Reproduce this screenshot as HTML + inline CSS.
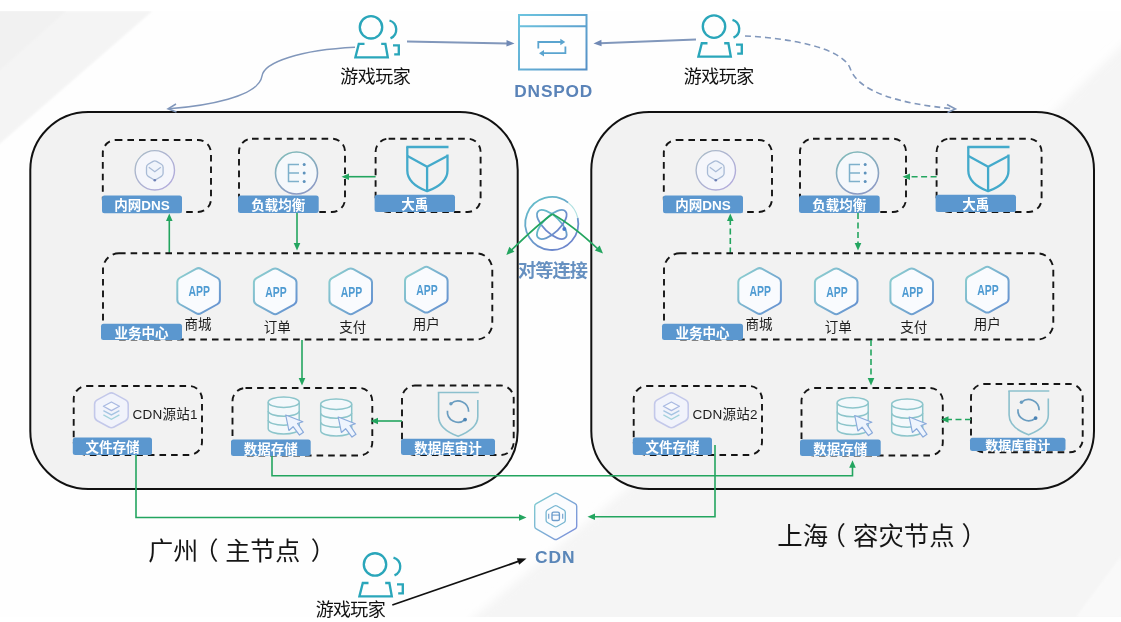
<!DOCTYPE html>
<html lang="zh-CN"><head><meta charset="utf-8"><title>多地域容灾架构</title>
<style>html,body{margin:0;padding:0;background:#fff;}body{width:1121px;height:622px;overflow:hidden;}svg{display:block;filter:blur(0.55px);font-family:"Liberation Sans","Noto Sans CJK SC",sans-serif;}</style></head><body>
<svg width="1121" height="622" viewBox="0 0 1121 622">
<defs><linearGradient id="gdns" x1="0" y1="0" x2="1" y2="1"><stop offset="0" stop-color="#a9bcc6"/><stop offset="1" stop-color="#b3a9de"/></linearGradient><linearGradient id="glb" x1="0" y1="0" x2="0.4" y2="1"><stop offset="0" stop-color="#80bcb9"/><stop offset="1" stop-color="#8c9cc4"/></linearGradient><linearGradient id="gapp" x1="0" y1="0" x2="1" y2="0.8"><stop offset="0" stop-color="#8fd2cf"/><stop offset="1" stop-color="#6794d1"/></linearGradient><linearGradient id="gcdn" x1="0" y1="0" x2="1" y2="0.8"><stop offset="0" stop-color="#7fcfd0"/><stop offset="1" stop-color="#7d92da"/></linearGradient><linearGradient id="gtl" x1="0" y1="0" x2="1" y2="1"><stop offset="0" stop-color="#f1f1f1"/><stop offset="1" stop-color="#f7f7f7"/></linearGradient><linearGradient id="gdp" gradientUnits="userSpaceOnUse" x1="519" y1="15" x2="586" y2="70"><stop offset="0" stop-color="#6cc4df"/><stop offset="1" stop-color="#5590c6"/></linearGradient><filter id="soft1" x="-20%" y="-20%" width="140%" height="140%"><feGaussianBlur stdDeviation="1.2"/></filter><filter id="soft2" x="-10%" y="-10%" width="120%" height="120%"><feGaussianBlur stdDeviation="4"/></filter><clipPath id="cpbg"><rect x="0" y="11" width="1121" height="606"/></clipPath></defs>
<rect width="1121" height="622" fill="#ffffff"/>
<rect x="0" y="11" width="1121" height="606" fill="#fefefe"/>
<g clip-path="url(#cpbg)">
<polygon points="-20,11 152.5,11 -20,161" fill="#f4f4f4" filter="url(#soft1)"/>
<polygon points="-20,11 66,11 -20,88" fill="#f1f1f1" filter="url(#soft1)"/>
<polygon points="474,617 625,490 1050,115 1141,27 1141,640 450,640" fill="#f5f5f5" filter="url(#soft2)"/>
<polygon points="1076,617 1121,617 1121,556" fill="#f9f9f9" filter="url(#soft1)"/>
</g>
<rect x="0" y="0" width="1121" height="11" fill="#fff"/>
<rect x="30.3" y="112" width="487.4" height="377" rx="58" fill="#f2f2f2" stroke="#111" stroke-width="2"/>
<rect x="591.3" y="112" width="502.7" height="377" rx="58" fill="#f2f2f2" stroke="#111" stroke-width="2"/>
<path d="M355,47.3 C300,50 264,62 262,76 C259,97 205,106 169,108.8" fill="none" stroke="#8197bb" stroke-width="1.5"/>
<path d="M176,104 L168,108.8 L176.5,112" fill="none" stroke="#8197bb" stroke-width="1.5"/>
<path d="M407,41.5 L508,43.4" fill="none" stroke="#8197bb" stroke-width="2"/>
<polygon points="514.5,43.5 506.44,46.61 506.56,40.11" fill="#7089b5"/>
<path d="M696,39.6 L600,43.2" fill="none" stroke="#8197bb" stroke-width="2"/>
<polygon points="593.5,43.4 601.38,39.87 601.61,46.37" fill="#7089b5"/>
<path d="M745,36 C790,38 842,48 850,68 C858,92 900,104 954,108.8" fill="none" stroke="#8197bb" stroke-width="1.6" stroke-dasharray="6 4"/>
<path d="M947,104.5 L955.5,109 L947.5,112.5" fill="none" stroke="#8197bb" stroke-width="1.5"/>
<g fill="none" stroke="#2aa6ba" stroke-width="2.35" stroke-linecap="butt" stroke-linejoin="miter"><circle cx="371" cy="27.3" r="11.2"/><path d="M364.5,43.9 H358.8 L355.4,57.3 H387.8 L385.4,43.9 H381.2"/><path d="M389.5,20.5 A9.5,9.5 0 0 1 390.5,38.3"/><path d="M393,45.3 H398.8 V54.3 H394.2"/></g>
<g fill="none" stroke="#2aa6ba" stroke-width="2.35" stroke-linecap="butt" stroke-linejoin="miter"><circle cx="714" cy="26.6" r="11.2"/><path d="M707.5,43.2 H701.8 L698.4,56.6 H730.8 L728.4,43.2 H724.2"/><path d="M732.5,19.8 A9.5,9.5 0 0 1 733.5,37.6"/><path d="M736,44.6 H741.8 V53.6 H737.2"/></g>
<text x="375.5" y="82.6" font-size="18" fill="#111" text-anchor="middle" textLength="70.5" lengthAdjust="spacing">游戏玩家</text>
<text x="719" y="82.6" font-size="18" fill="#111" text-anchor="middle" textLength="70.5" lengthAdjust="spacing">游戏玩家</text>
<g fill="none" stroke="url(#gdp)" stroke-width="2"><rect x="519" y="15" width="67.5" height="54.5"/><path d="M519,26.3 H586.5"/></g><g fill="none" stroke="#5aa4cf" stroke-width="1.8"><path d="M538.3,48.6 V42 H561.5"/><path d="M565.4,46.6 V53.2 H543"/></g><polygon points="565.3,42 560.3,38.8 560.3,45.2" fill="#5aa4cf"/><polygon points="539,53.2 544,50 544,56.4" fill="#5aa4cf"/>
<text x="553.3" y="97" font-size="17.3" font-weight="700" fill="#5a83b8" text-anchor="middle" textLength="78" lengthAdjust="spacing">DNSPOD</text>
<rect x="102.8" y="140" width="108.2" height="72" rx="13" fill="none" stroke="#151515" stroke-width="1.9" stroke-dasharray="6.6 5"/><circle cx="154.8" cy="170.3" r="19.7" fill="#f5f6fb" stroke="url(#gdns)" stroke-width="1.4"/><path d="M153.09,161.33 Q154.8,160.3 156.51,161.33 L161.39,164.27 Q163.1,165.3 163.1,167.3 L163.1,173.3 Q163.1,175.3 161.39,176.33 L156.51,179.27 Q154.8,180.3 153.09,179.27 L148.21,176.33 Q146.5,175.3 146.5,173.3 L146.5,167.3 Q146.5,165.3 148.21,164.27 Z" fill="#f0f4fb" stroke="#a9bbd6" stroke-width="1.3"/><path d="M148.8,167.3 L154.8,171.8 L160.8,167.3" fill="none" stroke="#a9bbd6" stroke-width="1.3"/><circle cx="154.8" cy="180.3" r="1.3" fill="#6d7fb5"/><rect x="102" y="195.5" width="80" height="17.8" rx="2.5" fill="#5b97cf"/><text x="142" y="210.26" font-size="13.5" font-weight="700" fill="#fff" text-anchor="middle">内网<tspan font-weight="700">DNS</tspan></text><rect x="239" y="138.7" width="106" height="73.3" rx="13" fill="none" stroke="#151515" stroke-width="1.9" stroke-dasharray="6.6 5"/><circle cx="296.5" cy="173" r="21" fill="#f5f8fb" stroke="url(#glb)" stroke-width="1.6"/><path d="M299,164.4 H288.5 V181.6 H299 M288.5,173 H299" fill="none" stroke="#7eb0cb" stroke-width="1.5"/><circle cx="304.2" cy="164.4" r="1.5" fill="#5e93bd"/><circle cx="304.2" cy="173" r="1.5" fill="#5e93bd"/><circle cx="304.2" cy="181.6" r="1.5" fill="#5e93bd"/><rect x="238" y="195.5" width="80.7" height="17.5" rx="2.5" fill="#5b97cf"/><text x="278.35" y="210.11" font-size="13.5" font-weight="700" fill="#fff" text-anchor="middle">负载均衡</text><rect x="375.6" y="138.7" width="105" height="73.3" rx="13" fill="none" stroke="#151515" stroke-width="1.9" stroke-dasharray="6.6 5"/><g fill="none" stroke="#43aacb" stroke-width="2.3" stroke-linejoin="round"><path d="M406.3,147 H448.5"/><path d="M407.3,147 V170.4 C407.3,181.4 417.3,187.4 427.1,191.2 C437.3,187.4 447.5,181.4 447.5,170.4 V154.4"/><path d="M407.5,155.9 L427.1,166.7 L447.3,155.9 M427.1,166.7 V191"/></g><rect x="374.6" y="194.7" width="80.4" height="17.3" rx="2.5" fill="#5b97cf"/><text x="414.8" y="209.21" font-size="13.5" font-weight="700" fill="#fff" text-anchor="middle">大禹</text><path d="M375.6,176.7 H347" fill="none" stroke="#23a55f" stroke-width="1.6"/><polygon points="341.5,176.7 349,173.4 349,180" fill="#23a55f"/><path d="M169.3,253.5 V220" fill="none" stroke="#23a55f" stroke-width="1.6"/><polygon points="169.3,213.5 172.6,221 166,221" fill="#23a55f"/><path d="M297,213 V244" fill="none" stroke="#23a55f" stroke-width="1.6"/><polygon points="297,250.5 293.7,243 300.3,243" fill="#23a55f"/><rect x="103" y="253.3" width="389.3" height="86.2" rx="16" fill="none" stroke="#151515" stroke-width="1.9" stroke-dasharray="6.6 5"/><path d="M195.98,268.85 Q198.6,267.4 201.22,268.85 L217.28,277.75 Q219.9,279.2 219.9,282.2 L219.9,299.8 Q219.9,302.8 217.28,304.25 L201.22,313.15 Q198.6,314.6 195.98,313.15 L179.92,304.25 Q177.3,302.8 177.3,299.8 L177.3,282.2 Q177.3,279.2 179.92,277.75 Z" fill="#f9fbfe" stroke="url(#gapp)" stroke-width="2"/><text x="199.3" y="296.2" font-size="14.3" font-weight="700" fill="#4f9bd2" text-anchor="middle" textLength="21.4" lengthAdjust="spacingAndGlyphs">APP</text><text x="198" y="329.3" font-size="13.5" fill="#1c1c1c" text-anchor="middle">商城</text><path d="M272.58,269.15 Q275.2,267.7 277.82,269.15 L293.88,278.05 Q296.5,279.5 296.5,282.5 L296.5,300.1 Q296.5,303.1 293.88,304.55 L277.82,313.45 Q275.2,314.9 272.58,313.45 L256.52,304.55 Q253.9,303.1 253.9,300.1 L253.9,282.5 Q253.9,279.5 256.52,278.05 Z" fill="#f9fbfe" stroke="url(#gapp)" stroke-width="2"/><text x="275.9" y="296.5" font-size="14.3" font-weight="700" fill="#4f9bd2" text-anchor="middle" textLength="21.4" lengthAdjust="spacingAndGlyphs">APP</text><text x="277.3" y="331.6" font-size="13.5" fill="#1c1c1c" text-anchor="middle">订单</text><path d="M348.08,269.15 Q350.7,267.7 353.32,269.15 L369.38,278.05 Q372,279.5 372,282.5 L372,300.1 Q372,303.1 369.38,304.55 L353.32,313.45 Q350.7,314.9 348.08,313.45 L332.02,304.55 Q329.4,303.1 329.4,300.1 L329.4,282.5 Q329.4,279.5 332.02,278.05 Z" fill="#f9fbfe" stroke="url(#gapp)" stroke-width="2"/><text x="351.4" y="296.5" font-size="14.3" font-weight="700" fill="#4f9bd2" text-anchor="middle" textLength="21.4" lengthAdjust="spacingAndGlyphs">APP</text><text x="352.8" y="331.6" font-size="13.5" fill="#1c1c1c" text-anchor="middle">支付</text><path d="M423.68,267.55 Q426.3,266.1 428.92,267.55 L444.98,276.45 Q447.6,277.9 447.6,280.9 L447.6,298.5 Q447.6,301.5 444.98,302.95 L428.92,311.85 Q426.3,313.3 423.68,311.85 L407.62,302.95 Q405,301.5 405,298.5 L405,280.9 Q405,277.9 407.62,276.45 Z" fill="#f9fbfe" stroke="url(#gapp)" stroke-width="2"/><text x="427" y="294.9" font-size="14.3" font-weight="700" fill="#4f9bd2" text-anchor="middle" textLength="21.4" lengthAdjust="spacingAndGlyphs">APP</text><text x="426.3" y="329.3" font-size="13.5" fill="#1c1c1c" text-anchor="middle">用户</text><rect x="101" y="323.7" width="81" height="16.3" rx="2.5" fill="#5b97cf"/><text x="141.5" y="337.71" font-size="13.5" font-weight="700" fill="#fff" text-anchor="middle">业务中心</text><rect x="73.7" y="386" width="128.3" height="69" rx="13" fill="none" stroke="#151515" stroke-width="1.9" stroke-dasharray="6.6 5"/><path d="M108.76,393.62 Q111.4,392.2 114.04,393.62 L125.56,399.83 Q128.2,401.25 128.2,404.25 L128.2,416.35 Q128.2,419.35 125.56,420.77 L114.04,426.98 Q111.4,428.4 108.76,426.98 L97.24,420.77 Q94.6,419.35 94.6,416.35 L94.6,404.25 Q94.6,401.25 97.24,399.83 Z" fill="#f1f3fb" stroke="#c3c8ea" stroke-width="1.6"/><path d="M103.4,406.3 l8,-4.3 l8,4.3 l-8,4.3 Z" fill="#f7f9fd" stroke="#a9b9e2" stroke-width="1.3" stroke-linejoin="round"/><path d="M103.4,410.6 l8,4.3 l8,-4.3" fill="none" stroke="#a5c4e2" stroke-width="1.3"/><path d="M103.4,414.9 l8,4.3 l8,-4.3" fill="none" stroke="#a3d2dc" stroke-width="1.3"/><text x="132.6" y="418.8" font-size="13.5" fill="#1c1c1c" textLength="65" lengthAdjust="spacing">CDN源站1</text><rect x="72.8" y="437.5" width="79.2" height="17.5" rx="2.5" fill="#5b97cf"/><text x="112.4" y="452.11" font-size="13.5" font-weight="700" fill="#fff" text-anchor="middle">文件存储</text><rect x="232.5" y="388" width="139.8" height="67.5" rx="13" fill="none" stroke="#151515" stroke-width="1.9" stroke-dasharray="6.6 5"/><g fill="#f3f8fb" stroke="#8cc5cb" stroke-width="1.5"><path d="M268.2,402.2 V428.8 A15.5,5.2 0 0 0 299.2,428.8 V402.2"/><ellipse cx="283.7" cy="402.2" rx="15.5" ry="5.2"/></g><g fill="none" stroke="#8cc5cb" stroke-width="1.5"><path d="M268.2,411.07 A15.5,5.2 0 0 0 299.2,411.07"/><path d="M268.2,419.93 A15.5,5.2 0 0 0 299.2,419.93"/></g><path d="M285.7,415 l3.2,15.5 l4.2,-3.8 l6.4,8.4 l4,-2.8 l-6,-8.8 l5.4,-1.8 Z" fill="#eef4fd" stroke="#8aaadb" stroke-width="1.2" stroke-linejoin="round"/><g fill="#f3f8fb" stroke="#8cc5cb" stroke-width="1.5"><path d="M320.7,404.2 V430.8 A15.5,5.2 0 0 0 351.7,430.8 V404.2"/><ellipse cx="336.2" cy="404.2" rx="15.5" ry="5.2"/></g><g fill="none" stroke="#8cc5cb" stroke-width="1.5"><path d="M320.7,413.07 A15.5,5.2 0 0 0 351.7,413.07"/><path d="M320.7,421.93 A15.5,5.2 0 0 0 351.7,421.93"/></g><path d="M338.2,417 l3.2,15.5 l4.2,-3.8 l6.4,8.4 l4,-2.8 l-6,-8.8 l5.4,-1.8 Z" fill="#eef4fd" stroke="#8aaadb" stroke-width="1.2" stroke-linejoin="round"/><rect x="231" y="439.5" width="79.7" height="16.5" rx="2.5" fill="#5b97cf"/><text x="270.85" y="453.61" font-size="13.5" font-weight="700" fill="#fff" text-anchor="middle">数据存储</text><rect x="402" y="385.5" width="111.7" height="69.5" rx="13" fill="none" stroke="#151515" stroke-width="1.9" stroke-dasharray="6.6 5"/><g fill="none" stroke="#8cc0cd" stroke-width="1.6"><path d="M437.8,392.5 H478.8"/><path d="M438.6,392.5 V416.5 C438.6,426.5 447.8,432.5 458.1,436.3 C467.8,432.5 477.8,426.5 477.8,416.5 V400"/></g><g fill="none" stroke="#6a9dc0" stroke-width="1.7"><path d="M451.19,403.58 A10.6,10.6 0 0 1 468.6,411.7"/><path d="M464.81,419.82 A10.6,10.6 0 0 1 447.44,410.78"/></g><circle cx="450.91" cy="403.82" r="1.7" fill="#6a9dc0"/><circle cx="465.09" cy="419.58" r="1.9" fill="#4c83b4"/><rect x="401" y="438.7" width="94" height="16.3" rx="2.5" fill="#5b97cf"/><text x="448" y="452.71" font-size="13.5" font-weight="700" fill="#fff" text-anchor="middle">数据库审计</text><path d="M402,421 H377" fill="none" stroke="#23a55f" stroke-width="1.6"/><polygon points="370.5,421 378,417.7 378,424.3" fill="#23a55f"/><path d="M302,340 V379" fill="none" stroke="#23a55f" stroke-width="1.6"/><polygon points="302,385.5 298.7,378 305.3,378" fill="#23a55f"/>
<rect x="663.8" y="140" width="108.2" height="72" rx="13" fill="none" stroke="#151515" stroke-width="1.9" stroke-dasharray="6.6 5"/><circle cx="715.8" cy="170.3" r="19.7" fill="#f5f6fb" stroke="url(#gdns)" stroke-width="1.4"/><path d="M714.09,161.33 Q715.8,160.3 717.51,161.33 L722.39,164.27 Q724.1,165.3 724.1,167.3 L724.1,173.3 Q724.1,175.3 722.39,176.33 L717.51,179.27 Q715.8,180.3 714.09,179.27 L709.21,176.33 Q707.5,175.3 707.5,173.3 L707.5,167.3 Q707.5,165.3 709.21,164.27 Z" fill="#f0f4fb" stroke="#a9bbd6" stroke-width="1.3"/><path d="M709.8,167.3 L715.8,171.8 L721.8,167.3" fill="none" stroke="#a9bbd6" stroke-width="1.3"/><circle cx="715.8" cy="180.3" r="1.3" fill="#6d7fb5"/><rect x="663" y="195.5" width="80" height="17.8" rx="2.5" fill="#5b97cf"/><text x="703" y="210.26" font-size="13.5" font-weight="700" fill="#fff" text-anchor="middle">内网<tspan font-weight="700">DNS</tspan></text><rect x="800" y="138.7" width="106" height="73.3" rx="13" fill="none" stroke="#151515" stroke-width="1.9" stroke-dasharray="6.6 5"/><circle cx="857.5" cy="173" r="21" fill="#f5f8fb" stroke="url(#glb)" stroke-width="1.6"/><path d="M860,164.4 H849.5 V181.6 H860 M849.5,173 H860" fill="none" stroke="#7eb0cb" stroke-width="1.5"/><circle cx="865.2" cy="164.4" r="1.5" fill="#5e93bd"/><circle cx="865.2" cy="173" r="1.5" fill="#5e93bd"/><circle cx="865.2" cy="181.6" r="1.5" fill="#5e93bd"/><rect x="799" y="195.5" width="80.7" height="17.5" rx="2.5" fill="#5b97cf"/><text x="839.35" y="210.11" font-size="13.5" font-weight="700" fill="#fff" text-anchor="middle">负载均衡</text><rect x="936.6" y="138.7" width="105" height="73.3" rx="13" fill="none" stroke="#151515" stroke-width="1.9" stroke-dasharray="6.6 5"/><g fill="none" stroke="#43aacb" stroke-width="2.3" stroke-linejoin="round"><path d="M967.3,147 H1009.5"/><path d="M968.3,147 V170.4 C968.3,181.4 978.3,187.4 988.1,191.2 C998.3,187.4 1008.5,181.4 1008.5,170.4 V154.4"/><path d="M968.5,155.9 L988.1,166.7 L1008.3,155.9 M988.1,166.7 V191"/></g><rect x="935.6" y="194.7" width="80.4" height="17.3" rx="2.5" fill="#5b97cf"/><text x="975.8" y="209.21" font-size="13.5" font-weight="700" fill="#fff" text-anchor="middle">大禹</text><path d="M936.6,176.7 H908" fill="none" stroke="#23a55f" stroke-width="1.6" stroke-dasharray="6 3.5"/><polygon points="902.5,176.7 910,173.4 910,180" fill="#23a55f"/><path d="M730.3,253.5 V220" fill="none" stroke="#23a55f" stroke-width="1.6" stroke-dasharray="6 3.5"/><polygon points="730.3,213.5 733.6,221 727,221" fill="#23a55f"/><path d="M858,213 V244" fill="none" stroke="#23a55f" stroke-width="1.6" stroke-dasharray="6 3.5"/><polygon points="858,250.5 854.7,243 861.3,243" fill="#23a55f"/><rect x="664" y="253.3" width="389.3" height="86.2" rx="16" fill="none" stroke="#151515" stroke-width="1.9" stroke-dasharray="6.6 5"/><path d="M756.98,268.85 Q759.6,267.4 762.22,268.85 L778.28,277.75 Q780.9,279.2 780.9,282.2 L780.9,299.8 Q780.9,302.8 778.28,304.25 L762.22,313.15 Q759.6,314.6 756.98,313.15 L740.92,304.25 Q738.3,302.8 738.3,299.8 L738.3,282.2 Q738.3,279.2 740.92,277.75 Z" fill="#f9fbfe" stroke="url(#gapp)" stroke-width="2"/><text x="760.3" y="296.2" font-size="14.3" font-weight="700" fill="#4f9bd2" text-anchor="middle" textLength="21.4" lengthAdjust="spacingAndGlyphs">APP</text><text x="759" y="329.3" font-size="13.5" fill="#1c1c1c" text-anchor="middle">商城</text><path d="M833.58,269.15 Q836.2,267.7 838.82,269.15 L854.88,278.05 Q857.5,279.5 857.5,282.5 L857.5,300.1 Q857.5,303.1 854.88,304.55 L838.82,313.45 Q836.2,314.9 833.58,313.45 L817.52,304.55 Q814.9,303.1 814.9,300.1 L814.9,282.5 Q814.9,279.5 817.52,278.05 Z" fill="#f9fbfe" stroke="url(#gapp)" stroke-width="2"/><text x="836.9" y="296.5" font-size="14.3" font-weight="700" fill="#4f9bd2" text-anchor="middle" textLength="21.4" lengthAdjust="spacingAndGlyphs">APP</text><text x="838.3" y="331.6" font-size="13.5" fill="#1c1c1c" text-anchor="middle">订单</text><path d="M909.08,269.15 Q911.7,267.7 914.32,269.15 L930.38,278.05 Q933,279.5 933,282.5 L933,300.1 Q933,303.1 930.38,304.55 L914.32,313.45 Q911.7,314.9 909.08,313.45 L893.02,304.55 Q890.4,303.1 890.4,300.1 L890.4,282.5 Q890.4,279.5 893.02,278.05 Z" fill="#f9fbfe" stroke="url(#gapp)" stroke-width="2"/><text x="912.4" y="296.5" font-size="14.3" font-weight="700" fill="#4f9bd2" text-anchor="middle" textLength="21.4" lengthAdjust="spacingAndGlyphs">APP</text><text x="913.8" y="331.6" font-size="13.5" fill="#1c1c1c" text-anchor="middle">支付</text><path d="M984.68,267.55 Q987.3,266.1 989.92,267.55 L1005.98,276.45 Q1008.6,277.9 1008.6,280.9 L1008.6,298.5 Q1008.6,301.5 1005.98,302.95 L989.92,311.85 Q987.3,313.3 984.68,311.85 L968.62,302.95 Q966,301.5 966,298.5 L966,280.9 Q966,277.9 968.62,276.45 Z" fill="#f9fbfe" stroke="url(#gapp)" stroke-width="2"/><text x="988" y="294.9" font-size="14.3" font-weight="700" fill="#4f9bd2" text-anchor="middle" textLength="21.4" lengthAdjust="spacingAndGlyphs">APP</text><text x="987.3" y="329.3" font-size="13.5" fill="#1c1c1c" text-anchor="middle">用户</text><rect x="662" y="323.7" width="81" height="16.3" rx="2.5" fill="#5b97cf"/><text x="702.5" y="337.71" font-size="13.5" font-weight="700" fill="#fff" text-anchor="middle">业务中心</text><rect x="633.7" y="386" width="128.3" height="69" rx="13" fill="none" stroke="#151515" stroke-width="1.9" stroke-dasharray="6.6 5"/><path d="M668.76,393.62 Q671.4,392.2 674.04,393.62 L685.56,399.83 Q688.2,401.25 688.2,404.25 L688.2,416.35 Q688.2,419.35 685.56,420.77 L674.04,426.98 Q671.4,428.4 668.76,426.98 L657.24,420.77 Q654.6,419.35 654.6,416.35 L654.6,404.25 Q654.6,401.25 657.24,399.83 Z" fill="#f1f3fb" stroke="#c3c8ea" stroke-width="1.6"/><path d="M663.4,406.3 l8,-4.3 l8,4.3 l-8,4.3 Z" fill="#f7f9fd" stroke="#a9b9e2" stroke-width="1.3" stroke-linejoin="round"/><path d="M663.4,410.6 l8,4.3 l8,-4.3" fill="none" stroke="#a5c4e2" stroke-width="1.3"/><path d="M663.4,414.9 l8,4.3 l8,-4.3" fill="none" stroke="#a3d2dc" stroke-width="1.3"/><text x="692.6" y="418.8" font-size="13.5" fill="#1c1c1c" textLength="65" lengthAdjust="spacing">CDN源站2</text><rect x="632.8" y="437.5" width="79.2" height="17.5" rx="2.5" fill="#5b97cf"/><text x="672.4" y="452.11" font-size="13.5" font-weight="700" fill="#fff" text-anchor="middle">文件存储</text><rect x="801.5" y="388" width="141.3" height="67.5" rx="13" fill="none" stroke="#151515" stroke-width="1.9" stroke-dasharray="6.6 5"/><g fill="#f3f8fb" stroke="#8cc5cb" stroke-width="1.5"><path d="M837.2,402.7 V429.3 A15.5,5.2 0 0 0 868.2,429.3 V402.7"/><ellipse cx="852.7" cy="402.7" rx="15.5" ry="5.2"/></g><g fill="none" stroke="#8cc5cb" stroke-width="1.5"><path d="M837.2,411.57 A15.5,5.2 0 0 0 868.2,411.57"/><path d="M837.2,420.43 A15.5,5.2 0 0 0 868.2,420.43"/></g><path d="M854.7,415.5 l3.2,15.5 l4.2,-3.8 l6.4,8.4 l4,-2.8 l-6,-8.8 l5.4,-1.8 Z" fill="#eef4fd" stroke="#8aaadb" stroke-width="1.2" stroke-linejoin="round"/><g fill="#f3f8fb" stroke="#8cc5cb" stroke-width="1.5"><path d="M891.7,404.2 V430.8 A15.5,5.2 0 0 0 922.7,430.8 V404.2"/><ellipse cx="907.2" cy="404.2" rx="15.5" ry="5.2"/></g><g fill="none" stroke="#8cc5cb" stroke-width="1.5"><path d="M891.7,413.07 A15.5,5.2 0 0 0 922.7,413.07"/><path d="M891.7,421.93 A15.5,5.2 0 0 0 922.7,421.93"/></g><path d="M909.2,417 l3.2,15.5 l4.2,-3.8 l6.4,8.4 l4,-2.8 l-6,-8.8 l5.4,-1.8 Z" fill="#eef4fd" stroke="#8aaadb" stroke-width="1.2" stroke-linejoin="round"/><rect x="800" y="439.5" width="80.7" height="16.5" rx="2.5" fill="#5b97cf"/><text x="840.35" y="453.61" font-size="13.5" font-weight="700" fill="#fff" text-anchor="middle">数据存储</text><rect x="971" y="384" width="111.7" height="68.3" rx="13" fill="none" stroke="#151515" stroke-width="1.9" stroke-dasharray="6.6 5"/><g fill="none" stroke="#8cc0cd" stroke-width="1.6"><path d="M1008.3,391 H1049.3"/><path d="M1009.1,391 V415 C1009.1,425 1018.3,431 1028.6,434.8 C1038.3,431 1048.3,425 1048.3,415 V398.5"/></g><g fill="none" stroke="#6a9dc0" stroke-width="1.7"><path d="M1021.69,402.08 A10.6,10.6 0 0 1 1039.1,410.2"/><path d="M1035.31,418.32 A10.6,10.6 0 0 1 1017.94,409.28"/></g><circle cx="1021.41" cy="402.32" r="1.7" fill="#6a9dc0"/><circle cx="1035.59" cy="418.08" r="1.9" fill="#4c83b4"/><rect x="970" y="437.7" width="95.5" height="13.3" rx="2.5" fill="#5b97cf"/><text x="1017.75" y="449.53" font-size="13" font-weight="700" fill="#fff" text-anchor="middle">数据库审计</text><path d="M971,419.5 H947.5" fill="none" stroke="#23a55f" stroke-width="1.6" stroke-dasharray="6 3.5"/><polygon points="941,419.5 948.5,416.2 948.5,422.8" fill="#23a55f"/><path d="M871,340 V379" fill="none" stroke="#23a55f" stroke-width="1.6" stroke-dasharray="6 3.5"/><polygon points="871,385.5 867.7,378 874.3,378" fill="#23a55f"/>
<defs><linearGradient id="gpeer" x1="0" y1="0" x2="0.6" y2="1"><stop offset="0" stop-color="#63c3c9"/><stop offset="1" stop-color="#6d86cc"/></linearGradient></defs><path d="M577.72,217.99 A26.5,26.5 0 1 1 568.12,202.62" fill="none" stroke="url(#gpeer)" stroke-width="1.8"/><path d="M568.12,202.62 A26.5,26.5 0 0 1 577.72,217.99" fill="none" stroke="#8fd4d4" stroke-width="1.2" opacity="0.7"/><g fill="none" stroke="url(#gpeer)" stroke-width="1.8"><ellipse cx="551.8" cy="224.5" rx="19" ry="8.3" transform="rotate(44 551.8 224.5)"/><ellipse cx="551.8" cy="224.5" rx="19" ry="8.3" transform="rotate(-44 551.8 224.5)"/></g><circle cx="564.3" cy="229" r="2" fill="#4a78c8"/>
<path d="M552.5,214 C541,222 526,236 510.5,251" fill="none" stroke="#23a55f" stroke-width="1.7"/>
<polygon points="506.3,255 509.34,246.81 514.37,251.68" fill="#23a55f"/>
<path d="M552.5,214 C565,221 583,235 598.5,249.5" fill="none" stroke="#23a55f" stroke-width="1.7"/>
<polygon points="603,253.5 594.81,250.46 599.68,245.43" fill="#23a55f"/>
<text x="553" y="277.2" font-size="18.2" font-weight="700" fill="#6690c0" text-anchor="middle" textLength="70" lengthAdjust="spacing">对等连接</text>
<path d="M136,455 V517.5 H520" fill="none" stroke="#23a55f" stroke-width="1.6"/>
<polygon points="526.5,517.5 519,520.8 519,514.2" fill="#23a55f"/>
<path d="M272,456 V475.7 H852.5 V467" fill="none" stroke="#23a55f" stroke-width="1.6"/>
<polygon points="852.5,460.3 855.8,467.8 849.2,467.8" fill="#23a55f"/>
<path d="M715,445 V516.8 H594" fill="none" stroke="#23a55f" stroke-width="1.6"/>
<polygon points="587.5,516.8 595,513.5 595,520.1" fill="#23a55f"/>
<path d="M554.13,493.58 Q555.7,492.7 557.27,493.58 L575.13,503.62 Q576.7,504.5 576.7,506.3 L576.7,526.3 Q576.7,528.1 575.13,528.98 L557.27,539.02 Q555.7,539.9 554.13,539.02 L536.27,528.98 Q534.7,528.1 534.7,526.3 L534.7,506.3 Q534.7,504.5 536.27,503.62 Z" fill="#fbfcfe" stroke="url(#gcdn)" stroke-width="1.4"/><path d="M554.4,506.05 Q555.7,505.3 557,506.05 L564,510.05 Q565.3,510.8 565.3,512.3 L565.3,520.3 Q565.3,521.8 564,522.55 L557,526.55 Q555.7,527.3 554.4,526.55 L547.4,522.55 Q546.1,521.8 546.1,520.3 L546.1,512.3 Q546.1,510.8 547.4,510.05 Z" fill="none" stroke="#77b6d2" stroke-width="1.3"/><rect x="552" y="512.1" width="7.4" height="8.4" rx="1.6" fill="none" stroke="#6d9ccc" stroke-width="1.4"/><path d="M552,515.1 H559.4" stroke="#6d9ccc" stroke-width="1.1"/><path d="M548.7,513.8 V518.8 M562.7,513.8 V518.8" stroke="#6d9ccc" stroke-width="1.1"/>
<text x="554.8" y="563" font-size="17.4" font-weight="700" fill="#5a86b8" text-anchor="middle" textLength="39.5" lengthAdjust="spacing">CDN</text>
<text font-size="25" fill="#151515" y="560.3"><tspan x="148.3">广州</tspan><tspan x="193.5">（</tspan><tspan x="225.2">主节点</tspan><tspan x="310.8">）</tspan></text>
<text font-size="25.4" fill="#151515" y="545.3"><tspan x="777.3">上海</tspan><tspan x="820.5">（</tspan><tspan x="853">容灾节点</tspan><tspan x="961.5">）</tspan></text>
<g fill="none" stroke="#2aa6ba" stroke-width="2.35" stroke-linecap="butt" stroke-linejoin="miter"><circle cx="375" cy="564.4" r="11.2"/><path d="M368.5,583 H362.8 L359.4,596.4 H391.8 L389.4,583 H385.2"/><path d="M393.5,557.6 A9.5,9.5 0 0 1 394.5,575.4"/><path d="M397,584.4 H402.8 V593.4 H398.2"/></g>
<text x="350.7" y="615.8" font-size="18" fill="#111" text-anchor="middle" textLength="70" lengthAdjust="spacing">游戏玩家</text>
<path d="M392.3,605 L519,561.2" fill="none" stroke="#111" stroke-width="1.8"/>
<polygon points="526.5,558.6 519.13,564.84 516.85,558.22" fill="#111"/>
</svg></body></html>
